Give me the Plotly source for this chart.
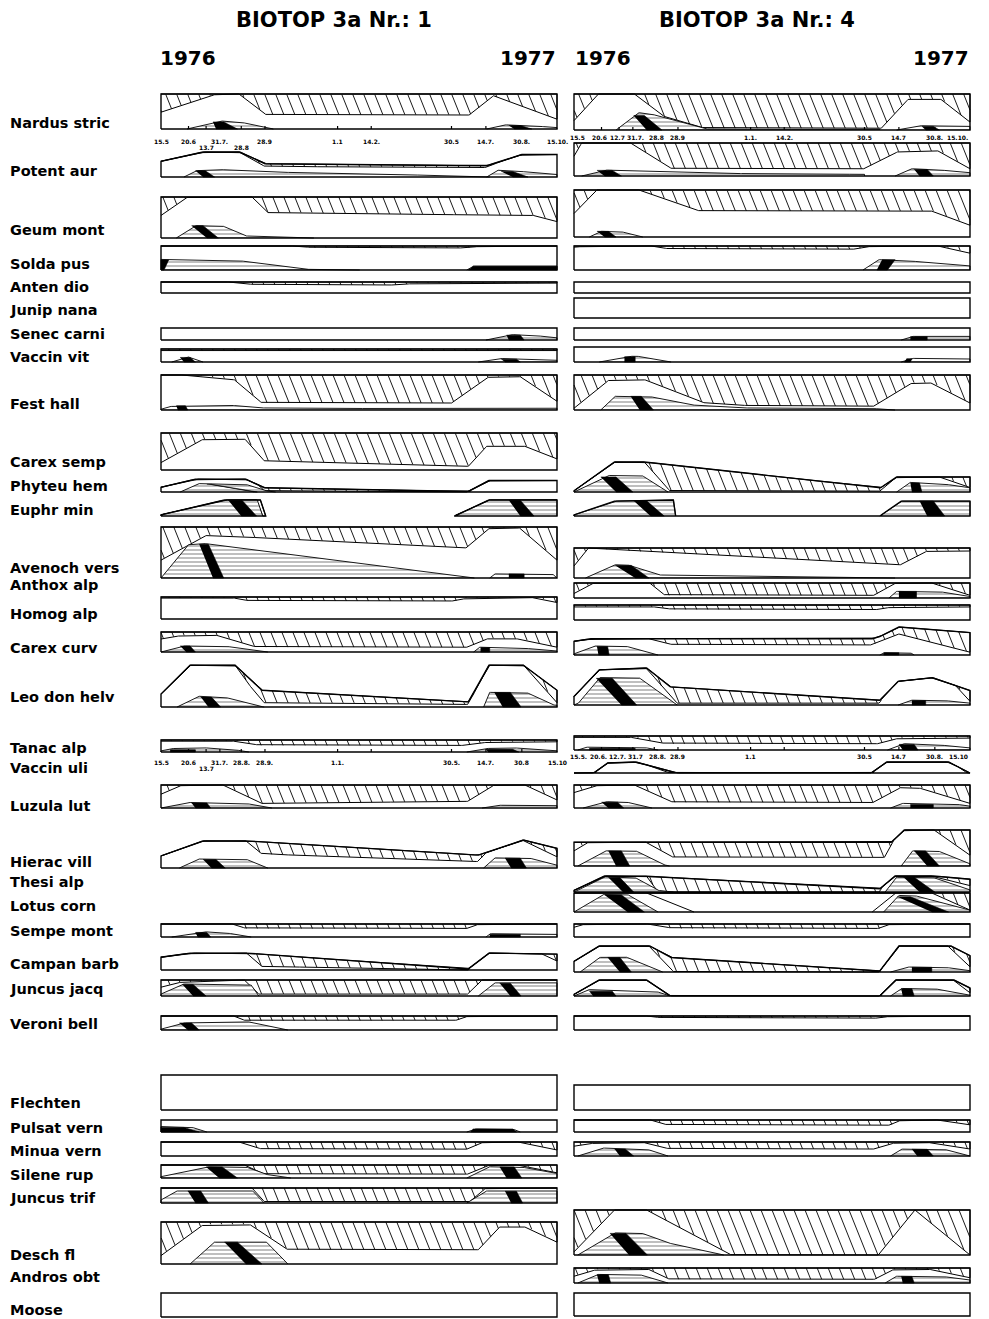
import numpy as np
import plotly.graph_objects as go

PAGE_W, PAGE_H = 989, 1319
BODY_MARGIN = 8  # default page margin around the plot div
FIG_W, FIG_H = PAGE_W - BODY_MARGIN, PAGE_H - BODY_MARGIN
SPAN = 518  # days from 15.5.1976 to 15.10.1977

SPECIES = ["Nardus stric", "Potent aur", "Geum mont", "Solda pus", "Anten dio", "Junip nana",
           "Senec carni", "Vaccin vit", "Fest hall", "Carex semp", "Phyteu hem", "Euphr min",
           "Avenoch vers", "Anthox alp", "Homog alp", "Carex curv", "Leo don helv", "Tanac alp",
           "Vaccin uli", "Luzula lut", "Hierac vill", "Thesi alp", "Lotus corn", "Sempe mont",
           "Campan barb", "Juncus jacq", "Veroni bell", "Flechten", "Pulsat vern", "Minua vern",
           "Silene rup", "Juncus trif", "Desch fl", "Andros obt", "Moose"]

# observation dates (days after 15.5.1976)
TICK_DAYS = [0, 36, 59, 77, 105, 136, 231, 275, 380, 425, 472, 518]
NR1_TICKS_A = ["15.5", "20.6", "13.7", "31.7.", "28.8", "28.9", "1.1", "14.2.", "30.5", "14.7.", "30.8.", "15.10."]
NR1_TICKS_B = ["15.5", "20.6", "13.7", "31.7.", "28.8.", "28.9.", "1.1.", None, "30.5.", "14.7.", "30.8", "15.10"]
NR4_TICKS_A = ["15.5", "20.6", "12.7", "31.7.", "28.8", "28.9", "1.1.", "14.2.", "30.5", "14.7", "30.8.", "15.10."]
NR4_TICKS_B = ["15.5.", "20.6.", "12.7.", "31.7", "28.8.", "28.9", "1.1", None, "30.5", "14.7", "30.8.", "15.10"]

# ---------------- BIOTOP 3a Nr. 1 : (day, share of row height) ----------------
ENV_NR1 = {
    "Potent aur": [[(0, 0.63), (55, 1), (103, 1), (136, 0.53), (426, 0.45), (472, 0.9), (518, 0.9)]],
    "Phyteu hem": [[(0, 0.34), (45, 0.92), (111, 0.92), (135, 0.3), (402, 0.04), (429, 0.82), (518, 0.82)]],
    "Euphr min": [[(0, 0.07), (83, 1), (130, 1), (137, 0)], [(384, 0), (429, 1), (518, 1)]],
    "Leo don helv": [[(0, 0.3), (38, 0.97), (97, 0.97), (132, 0.39), (402, 0.12), (429, 0.97), (474, 0.97), (518, 0.39)]],
    "Hierac vill": [[(0, 0.43), (55, 0.97), (111, 0.97), (415, 0.46), (474, 1.0), (518, 0.7)]],
    "Campan barb": [[(0, 0.71), (38, 0.94), (111, 0.94), (402, 0.06), (429, 0.94), (518, 0.88)]],
}
DEAD_NR1 = {
    "Nardus stric": [(0, 0.48), (73, 1), (103, 1), (138, 0.4), (404, 0.4), (435, 0.95), (518, 0.28)],
    "Potent aur": [(0, 1), (103, 1), (136, 0.42), (426, 0.38), (472, 1), (518, 1)],
    "Geum mont": [(0, 0.55), (35, 1), (120, 1), (140, 0.62), (470, 0.55), (490, 0.55), (518, 0.4)],
    "Solda pus": [(0, 1), (180, 1), (200, 0.92), (400, 0.92), (420, 1), (518, 1)],
    "Anten dio": [(0, 1), (95, 1), (125, 0.73), (310, 0.73), (335, 0.9), (518, 0.9)],
    "Vaccin vit": [(0, 0.88), (518, 0.88)],
    "Fest hall": [(0, 1), (35, 1), (97, 0.86), (132, 0.2), (381, 0.2), (429, 0.95), (471, 0.95), (518, 0.25)],
    "Carex semp": [(0, 0.2), (55, 0.83), (111, 0.83), (135, 0.25), (402, 0.1), (426, 0.64), (478, 0.64), (518, 0.3)],
    "Phyteu hem": [(0, 1), (120, 1), (135, 0.1), (402, 0), (412, 1), (518, 1)],
    "Euphr min": [(0, 1), (126, 1), (133, 0), (200, 0), (210, 1), (518, 1)],
    "Avenoch vers": [(0, 0.35), (60, 0.84), (400, 0.59), (430, 0.98), (470, 0.98), (518, 0.35)],
    "Homog alp": [(0, 0.95), (100, 0.95), (115, 0.82), (385, 0.82), (400, 0.95), (490, 0.97), (518, 0.75)],
    "Carex curv": [(0, 0.65), (28, 0.83), (76, 0.83), (125, 0.24), (402, 0.24), (429, 0.69), (471, 0.65), (518, 0.24)],
    "Leo don helv": [(0, 1), (97, 1), (120, 0.4), (135, 0.1), (402, 0.06), (429, 1), (474, 1), (518, 0.1)],
    "Tanac alp": [(0, 0.9), (100, 0.9), (130, 0.55), (400, 0.55), (430, 0.85), (518, 0.85)],
    "Luzula lut": [(0, 0.6), (28, 1), (83, 1), (132, 0.2), (402, 0.29), (436, 1), (478, 1), (518, 0.35)],
    "Hierac vill": [(0, 1), (111, 1), (132, 0.5), (415, 0.23), (440, 1), (474, 1), (518, 0.4)],
    "Sempe mont": [(0, 1), (95, 1), (111, 0.66), (402, 0.66), (416, 1), (518, 1)],
    "Campan barb": [(0, 1), (111, 1), (132, 0.2), (402, 0), (410, 1), (495, 1), (518, 0.5)],
    "Juncus jacq": [(0, 0.55), (25, 0.85), (110, 1), (128, 0.12), (402, 0.12), (420, 1), (518, 1)],
    "Veroni bell": [(0, 1), (97, 1), (111, 0.65), (388, 0.7), (402, 1), (518, 1)],
    "Minua vern": [(0, 1), (104, 1), (132, 0.49), (402, 0.49), (422, 1), (471, 1), (518, 0.43)],
    "Silene rup": [(0, 1), (111, 1), (135, 0.3), (402, 0.3), (430, 1), (470, 1), (518, 0.4)],
    "Juncus trif": [(0, 1), (120, 1), (135, 0.1), (405, 0.1), (425, 1), (518, 1)],
    "Desch fl": [(0, 0.2), (55, 0.93), (118, 0.93), (166, 0.34), (416, 0.34), (443, 0.88), (478, 0.88), (518, 0.52)],
}
FLOW_NR1 = {
    "Nardus stric": [[(34, 0), (77, 0.23), (103, 0.2), (147, 0)], [(426, 0), (448, 0.12), (480, 0.1), (518, 0.04)]],
    "Potent aur": [[(30, 0), (45, 0.25), (75, 0.3), (140, 0.2), (380, 0.05), (430, 0)], [(426, 0), (440, 0.27), (460, 0.25), (518, 0.1)]],
    "Geum mont": [[(20, 0), (45, 0.3), (80, 0.3), (110, 0.05), (200, 0)]],
    "Solda pus": [[(0, 0.44), (100, 0.4), (185, 0.03), (260, 0)], [(400, 0), (408, 0.16), (518, 0.16)]],
    "Senec carni": [[(425, 0), (457, 0.45), (485, 0.4), (518, 0.18)]],
    "Vaccin vit": [[(14, 0), (35, 0.4), (55, 0)], [(415, 0), (443, 0.27), (518, 0.13)]],
    "Fest hall": [[(0, 0.02), (10, 0.1), (90, 0.14), (125, 0.06), (381, 0.03), (420, 0.05), (518, 0.05)]],
    "Phyteu hem": [[(25, 0), (48, 0.6), (111, 0.55), (135, 0.1), (150, 0)]],
    "Euphr min": [[(0, 0.07), (83, 1), (126, 1), (133, 0)], [(384, 0), (429, 1), (518, 1)]],
    "Avenoch vers": [[(0, 0), (35, 0.65), (55, 0.68), (400, 0.02), (410, 0)], [(430, 0), (436, 0.08), (512, 0.08), (518, 0)]],
    "Carex curv": [[(0, 0), (28, 0.3), (83, 0.3), (125, 0.05), (140, 0)], [(409, 0), (416, 0.24), (471, 0.2), (518, 0.05)]],
    "Leo don helv": [[(21, 0), (48, 0.25), (83, 0.23), (125, 0.03), (135, 0)], [(422, 0), (429, 0.34), (478, 0.34), (512, 0.05), (518, 0.04)]],
    "Tanac alp": [[(0, 0.09), (12, 0.28), (51, 0.37), (95, 0.2), (115, 0)], [(400, 0), (422, 0.28), (456, 0.37), (518, 0.1)]],
    "Luzula lut": [[(0, 0), (35, 0.24), (110, 0.2), (145, 0.02)], [(420, 0), (440, 0.12), (518, 0.1)]],
    "Hierac vill": [[(24, 0), (48, 0.32), (111, 0.32), (135, 0.03), (140, 0)], [(422, 0), (436, 0.36), (481, 0.36), (518, 0.1)]],
    "Sempe mont": [[(14, 0), (55, 0.4), (83, 0.34), (118, 0)], [(425, 0), (430, 0.25), (518, 0.2)]],
    "Juncus jacq": [[(0, 0.12), (28, 0.75), (118, 0.68), (128, 0)], [(415, 0), (436, 0.82), (518, 0.82)]],
    "Veroni bell": [[(0, 0.06), (28, 0.5), (111, 0.62), (166, 0)]],
    "Pulsat vern": [[(0, 0.45), (40, 0.4), (60, 0)], [(400, 0), (410, 0.25), (460, 0.25), (470, 0)]],
    "Silene rup": [[(0, 0.1), (60, 0.86), (111, 0.86), (135, 0.3), (170, 0)], [(400, 0), (429, 0.86), (470, 0.86), (518, 0.35)]],
    "Juncus trif": [[(0, 0.2), (20, 0.8), (120, 0.8), (135, 0)], [(400, 0), (425, 0.8), (518, 0.8)]],
    "Desch fl": [[(38, 0), (69, 0.52), (138, 0.52), (166, 0)]],
}
# fruit bands: (top start, top end, bottom start, bottom end, height)
FRUIT_NR1 = {
    "Nardus stric": [(68, 82, 72, 100, 0.2), (455, 470, 462, 485, 0.1)],
    "Potent aur": [(45, 58, 55, 70, 0.25), (445, 460, 460, 480, 0.22)],
    "Geum mont": [(40, 55, 60, 75, 0.3)],
    "Solda pus": [(0, 10, 0, 4, 0.42), (408, 518, 402, 518, 0.16)],
    "Senec carni": [(452, 470, 455, 475, 0.4)],
    "Vaccin vit": [(25, 38, 30, 45, 0.35), (445, 465, 450, 470, 0.22)],
    "Fest hall": [(20, 32, 22, 35, 0.12)],
    "Phyteu hem": [(60, 66, 120, 126, 0.55)],
    "Euphr min": [(88, 106, 105, 125, 0.98), (455, 470, 470, 488, 0.98)],
    "Avenoch vers": [(50, 62, 68, 82, 0.66), (455, 475, 455, 475, 0.08)],
    "Carex curv": [(25, 38, 33, 45, 0.3), (418, 430, 418, 430, 0.22)],
    "Leo don helv": [(52, 66, 62, 78, 0.23), (436, 457, 447, 471, 0.34)],
    "Tanac alp": [(12, 45, 12, 45, 0.18), (425, 460, 428, 468, 0.22)],
    "Luzula lut": [(40, 60, 45, 65, 0.22)],
    "Hierac vill": [(55, 72, 66, 84, 0.3), (450, 470, 458, 478, 0.35)],
    "Sempe mont": [(45, 60, 48, 65, 0.35), (430, 470, 430, 470, 0.2)],
    "Juncus jacq": [(28, 42, 42, 59, 0.72), (443, 457, 457, 471, 0.8)],
    "Veroni bell": [(24, 40, 35, 50, 0.5)],
    "Pulsat vern": [(0, 30, 0, 50, 0.38), (408, 460, 405, 465, 0.25)],
    "Silene rup": [(59, 80, 76, 100, 0.85), (443, 462, 452, 472, 0.85)],
    "Juncus trif": [(35, 52, 45, 62, 0.8), (450, 465, 458, 473, 0.78)],
    "Desch fl": [(83, 100, 111, 132, 0.52)],
}
LINES_NR1 = {}

# ---------------- BIOTOP 3a Nr. 4 ----------------
ENV_NR4 = {
    "Phyteu hem": [[(0, 0.04), (53, 1), (92, 1), (401, 0.14), (422, 0.5), (518, 0.5)]],
    "Euphr min": [[(0, 0.07), (53, 0.93), (130, 1), (133, 0), (400, 0), (428, 0.93), (518, 0.93)]],
    "Carex curv": [[(0, 0.49), (22, 0.58), (390, 0.58), (400, 0.66), (425, 1.0), (518, 0.8)]],
    "Leo don helv": [[(0, 0.23), (33, 0.95), (95, 1), (126, 0.49), (400, 0.13), (424, 0.64), (469, 0.74), (518, 0.39)]],
    "Vaccin uli": [[(0, 0), (26, 0), (44, 0.91), (81, 1), (134, 0), (389, 0), (409, 1), (490, 1), (518, 0)]],
    "Hierac vill": [[(0, 0.66), (415, 0.66), (432, 1), (470, 1), (518, 1)]],
    "Thesi alp": [[(0, 0.1), (40, 1), (95, 0.98), (400, 0.2), (420, 1), (470, 1), (518, 0.8)]],
    "Campan barb": [[(0, 0.41), (33, 1), (99, 1), (127, 0.56), (400, 0.04), (425, 1), (493, 1), (518, 0.63)]],
    "Juncus jacq": [[(0, 0.1), (33, 1), (95, 1), (126, 0), (400, 0), (421, 1), (497, 1), (518, 0.5)]],
}
DEAD_NR4 = {
    "Nardus stric": [(0, 0.26), (32, 1), (80, 1), (119, 0.36), (171, 0.05), (402, 0.05), (437, 0.85), (481, 0.85), (518, 0.22)],
    "Potent aur": [(0, 0.6), (10, 1), (75, 1), (128, 0.22), (381, 0.22), (424, 0.74), (477, 0.76), (518, 0.22)],
    "Geum mont": [(0, 0.5), (30, 1), (85, 1), (165, 0.55), (470, 0.55), (518, 0.25)],
    "Solda pus": [(0, 0.95), (20, 1), (105, 1), (125, 0.87), (370, 0.87), (390, 1), (480, 1), (518, 0.7)],
    "Fest hall": [(0, 0.05), (46, 0.86), (95, 0.86), (171, 0.2), (240, 0.11), (393, 0.11), (442, 0.77), (469, 0.77), (518, 0.2)],
    "Phyteu hem": [(0, 1), (92, 1), (125, 0.05), (401, 0.03), (422, 0.5), (480, 0.5), (518, 0.15)],
    "Avenoch vers": [(0, 0.4), (19, 1), (30, 0.96), (428, 0.44), (462, 0.9), (518, 0.9)],
    "Anthox alp": [(0, 0.3), (26, 1), (100, 1), (119, 0.18), (393, 0.18), (421, 1), (470, 1), (518, 0.18)],
    "Homog alp": [(0, 0.87), (110, 0.87), (130, 0.7), (400, 0.7), (415, 0.87), (518, 0.87)],
    "Carex curv": [(0, 0.49), (22, 0.58), (100, 0.58), (130, 0.36), (390, 0.36), (425, 0.75), (518, 0.1)],
    "Leo don helv": [(0, 1), (95, 1), (115, 0.5), (135, 0.05), (400, 0.05), (420, 1), (480, 1), (518, 0.1)],
    "Tanac alp": [(0, 0.9), (80, 0.9), (120, 0.45), (400, 0.45), (425, 0.85), (518, 0.85)],
    "Vaccin uli": [(0, 1), (88, 1), (125, 0), (300, 0), (389, 1), (496, 1), (514, 0), (518, 0)],
    "Luzula lut": [(0, 0.67), (33, 1), (81, 1), (130, 0.24), (393, 0.24), (428, 0.9), (456, 0.85), (518, 0.2)],
    "Hierac vill": [(0, 0.42), (19, 0.66), (95, 0.66), (130, 0.24), (407, 0.24), (425, 1), (472, 1), (518, 0.3)],
    "Thesi alp": [(0, 1), (95, 1), (110, 0), (400, 0), (410, 1), (470, 1), (518, 0.4)],
    "Lotus corn": [(0, 1), (470, 1), (518, 0.1)],
    "Sempe mont": [(0, 0.75), (15, 1), (100, 1), (130, 0.66), (400, 0.66), (414, 1), (518, 1)],
    "Campan barb": [(0, 1), (99, 1), (130, 0.02), (400, 0), (425, 1), (490, 1), (518, 0.2)],
    "Juncus jacq": [(0, 1), (497, 1), (518, 0.2)],
    "Veroni bell": [(0, 1), (100, 1), (115, 0.85), (400, 0.85), (415, 1), (518, 1)],
    "Pulsat vern": [(0, 1), (102, 1), (123, 0.57), (414, 0.57), (428, 1), (480, 1), (518, 0.6)],
    "Minua vern": [(0, 0.7), (30, 0.95), (95, 0.95), (125, 0.5), (395, 0.5), (420, 0.95), (470, 0.95), (518, 0.5)],
    "Desch fl": [(0, 0.07), (53, 1), (95, 1), (206, 0), (398, 0), (446, 1), (518, 0)],
    "Andros obt": [(0, 0.45), (30, 0.9), (100, 0.9), (125, 0.25), (395, 0.25), (418, 0.9), (470, 0.9), (518, 0.35)],
}
FLOW_NR4 = {
    "Nardus stric": [[(55, 0), (70, 0.25), (85, 0.48), (100, 0.45), (171, 0.03), (230, 0.02), (400, 0.02)], [(422, 0), (450, 0.12), (490, 0.1), (518, 0.1)]],
    "Potent aur": [[(10, 0), (40, 0.18), (80, 0.15), (170, 0.08), (380, 0.05)], [(420, 0), (440, 0.22), (470, 0.2), (518, 0.1)]],
    "Geum mont": [[(20, 0), (35, 0.12), (60, 0.12), (90, 0)]],
    "Solda pus": [[(378, 0), (398, 0.43), (430, 0.4), (518, 0.17)]],
    "Senec carni": [[(428, 0), (442, 0.3), (518, 0.3)]],
    "Vaccin vit": [[(33, 0), (67, 0.34), (81, 0.4), (127, 0)], [(428, 0), (442, 0.24), (518, 0.2)]],
    "Fest hall": [[(35, 0), (53, 0.39), (98, 0.39), (150, 0.15), (210, 0.06), (393, 0.04), (420, 0)]],
    "Phyteu hem": [[(0, 0), (44, 0.55), (89, 0.55), (123, 0)], [(422, 0), (439, 0.32), (483, 0.27), (518, 0.14)]],
    "Euphr min": [[(0, 0.07), (53, 0.93), (130, 1), (133, 0)], [(400, 0), (428, 0.93), (518, 0.93)]],
    "Avenoch vers": [[(15, 0), (53, 0.44), (70, 0.44), (110, 0.1), (380, 0.03), (420, 0)]],
    "Anthox alp": [[(412, 0), (421, 0.44), (476, 0.44), (518, 0.1)]],
    "Carex curv": [[(0, 0.04), (26, 0.32), (67, 0.32), (106, 0.04), (110, 0)], [(400, 0), (405, 0.08), (440, 0.08), (445, 0)]],
    "Leo don helv": [[(0, 0), (5, 0.03), (33, 0.74), (85, 0.74), (126, 0.13), (135, 0)], [(424, 0), (440, 0.13), (480, 0.13), (518, 0.05)]],
    "Tanac alp": [[(5, 0), (15, 0.2), (90, 0.2), (110, 0)], [(410, 0), (430, 0.45), (470, 0.4), (518, 0.15)]],
    "Luzula lut": [[(12, 0), (40, 0.27), (67, 0.27), (102, 0)], [(414, 0), (428, 0.2), (497, 0.18), (518, 0.08)]],
    "Hierac vill": [[(5, 0), (40, 0.42), (81, 0.42), (116, 0.04), (125, 0)], [(428, 0), (442, 0.42), (476, 0.42), (518, 0.06)]],
    "Thesi alp": [[(0, 0), (40, 0.95), (80, 0.9), (110, 0.1), (130, 0)], [(407, 0), (421, 0.92), (469, 0.92), (518, 0.13)]],
    "Lotus corn": [[(0, 0), (38, 0.92), (70, 0.92), (110, 0)], [(405, 0), (424, 0.87), (445, 0.87), (518, 0.1)]],
    "Campan barb": [[(8, 0), (33, 0.56), (67, 0.59), (116, 0)], [(414, 0), (435, 0.19), (483, 0.19), (518, 0.05)]],
    "Juncus jacq": [[(0, 0), (19, 0.4), (109, 0.26), (126, 0)], [(414, 0), (428, 0.47), (470, 0.47), (518, 0.05)]],
    "Minua vern": [[(5, 0), (37, 0.57), (95, 0.49), (123, 0)], [(414, 0), (428, 0.49), (483, 0.49), (518, 0.05)]],
    "Desch fl": [[(5, 0), (53, 0.49), (88, 0.49), (120, 0.28), (196, 0)]],
    "Andros obt": [[(5, 0), (30, 0.57), (85, 0.57), (123, 0)], [(407, 0), (421, 0.45), (480, 0.45), (518, 0.2)]],
}
FRUIT_NR4 = {
    "Nardus stric": [(78, 92, 95, 115, 0.4), (455, 470, 460, 478, 0.1)],
    "Potent aur": [(30, 50, 40, 62, 0.17), (445, 462, 452, 470, 0.2)],
    "Geum mont": [(30, 45, 40, 55, 0.12)],
    "Solda pus": [(403, 420, 396, 410, 0.43)],
    "Senec carni": [(440, 462, 440, 462, 0.28)],
    "Vaccin vit": [(66, 80, 66, 80, 0.35), (435, 442, 432, 440, 0.22)],
    "Fest hall": [(74, 88, 86, 104, 0.39)],
    "Phyteu hem": [(35, 55, 55, 77, 0.5), (440, 452, 442, 455, 0.3)],
    "Euphr min": [(78, 95, 100, 118, 0.95), (452, 470, 462, 485, 0.93)],
    "Avenoch vers": [(54, 75, 80, 98, 0.42)],
    "Anthox alp": [(425, 448, 425, 448, 0.44)],
    "Carex curv": [(30, 44, 32, 46, 0.3), (405, 425, 405, 425, 0.08)],
    "Leo don helv": [(29, 50, 62, 82, 0.72), (442, 460, 442, 460, 0.12)],
    "Tanac alp": [(20, 80, 20, 80, 0.12), (425, 445, 430, 450, 0.4)],
    "Luzula lut": [(36, 57, 45, 65, 0.25), (440, 470, 440, 470, 0.15)],
    "Hierac vill": [(45, 62, 55, 73, 0.42), (445, 460, 462, 478, 0.42)],
    "Thesi alp": [(45, 60, 64, 78, 0.9), (431, 445, 452, 472, 0.92)],
    "Lotus corn": [(40, 62, 70, 92, 0.9), (423, 440, 468, 490, 0.8)],
    "Campan barb": [(44, 60, 60, 75, 0.56), (442, 468, 442, 468, 0.18)],
    "Juncus jacq": [(20, 50, 25, 55, 0.3), (428, 442, 430, 445, 0.45)],
    "Minua vern": [(53, 67, 60, 78, 0.5), (442, 462, 449, 470, 0.48)],
    "Desch fl": [(47, 68, 72, 96, 0.48)],
    "Andros obt": [(30, 45, 33, 48, 0.55), (428, 442, 430, 445, 0.44)],
}
LINES_NR4 = {"Lotus corn": [[(95, 1), (157, 0)], [(390, 0), (421, 1)]]}

# ---------------- layout (page pixel rows: top, bottom) ----------------
LABEL_Y = [123, 171, 230, 264, 287, 310, 334, 357, 404, 462, 486, 510, 568, 585, 614, 648, 697, 748,
           768, 806, 862, 882, 906, 931, 964, 989, 1024, 1103, 1128, 1151, 1175, 1198, 1255, 1277, 1310]
ROWS_NR1 = {"Nardus stric": (94, 129), "Potent aur": (152, 177), "Geum mont": (197, 238), "Solda pus": (246, 270),
            "Anten dio": (282, 293), "Senec carni": (328, 340), "Vaccin vit": (349, 362), "Fest hall": (375, 410),
            "Carex semp": (433, 470), "Phyteu hem": (478, 492), "Euphr min": (500, 516), "Avenoch vers": (527, 578),
            "Homog alp": (597, 619), "Carex curv": (632, 652), "Leo don helv": (664, 707), "Tanac alp": (740, 752),
            "Luzula lut": (785, 808), "Hierac vill": (840, 868), "Sempe mont": (924, 937), "Campan barb": (952, 970),
            "Juncus jacq": (980, 996), "Veroni bell": (1016, 1030), "Flechten": (1075, 1110), "Pulsat vern": (1120, 1132),
            "Minua vern": (1142, 1156), "Silene rup": (1165, 1178), "Juncus trif": (1188, 1203), "Desch fl": (1222, 1264),
            "Moose": (1293, 1317)}
ROWS_NR4 = {"Nardus stric": (94, 130), "Potent aur": (143, 176), "Geum mont": (190, 237), "Solda pus": (246, 270),
            "Anten dio": (282, 293), "Junip nana": (298, 318), "Senec carni": (328, 340), "Vaccin vit": (347, 362),
            "Fest hall": (375, 410), "Phyteu hem": (462, 492), "Euphr min": (500, 516), "Avenoch vers": (548, 578),
            "Anthox alp": (583, 598), "Homog alp": (605, 620), "Carex curv": (627, 655), "Leo don helv": (668, 705),
            "Tanac alp": (736, 750), "Vaccin uli": (762, 773), "Luzula lut": (785, 808), "Hierac vill": (830, 866),
            "Thesi alp": (876, 892), "Lotus corn": (893, 912), "Sempe mont": (924, 937), "Campan barb": (946, 972),
            "Juncus jacq": (980, 996), "Veroni bell": (1016, 1030), "Flechten": (1085, 1110), "Pulsat vern": (1120, 1132),
            "Minua vern": (1142, 1156), "Desch fl": (1210, 1255), "Andros obt": (1268, 1283), "Moose": (1293, 1316)}
AXIS_ROWS = ["Nardus stric", "Tanac alp"]
PANEL_PX = {"x": (161, 557), "x2": (574, 970)}
PX_DAY = (PANEL_PX["x"][1] - PANEL_PX["x"][0]) / SPAN
HATCH_SLOPE = 2.5    # steepness of the hatching strokes (dy/dx)
HATCH_SPACING = 11.0  # horizontal distance between strokes, px


def curve(points, xs):
    return np.interp(xs, [p[0] for p in points], [p[1] for p in points])


def grid(a, b):
    xs = np.arange(np.ceil(a), np.floor(b) + 1, 1.0)
    return np.unique(np.concatenate([[a], xs, [b]]))


def hatch_strokes(xs_day, y_top, y_bot, row_top, row_bot):
    """Steep '\\' strokes filling the band between y_top and y_bot (page px)."""
    out_x, out_y = [], []
    xp = xs_day * PX_DAY
    thick = (y_bot - y_top) > 0.4
    if not thick.any():
        return out_x, out_y
    cmin = xp[0] - row_bot / HATCH_SLOPE
    cmax = xp[-1] - row_top / HATCH_SLOPE
    ys = np.linspace(row_top, row_bot, 80)
    for k in range(int(np.floor(cmin / HATCH_SPACING)), int(np.ceil(cmax / HATCH_SPACING)) + 1):
        c = k * HATCH_SPACING
        xl = c + ys / HATCH_SLOPE
        valid = (xl >= xp[0]) & (xl <= xp[-1])
        yt = np.interp(xl, xp, y_top)
        yb = np.interp(xl, xp, y_bot)
        inside = valid & (ys >= yt - 0.05) & (ys <= yb + 0.05) & ((yb - yt) > 0.4)
        if not inside.any():
            continue
        idx = np.flatnonzero(inside)
        runs = np.split(idx, np.flatnonzero(np.diff(idx) > 1) + 1)
        for r in runs:
            if len(r) < 2:
                continue
            out_x += [xl[r[0]] / PX_DAY, xl[r[-1]] / PX_DAY, None]
            out_y += [ys[r[0]], ys[r[-1]], None]
    return out_x, out_y


def build(fig, xref, rows, env, dead, flow, fruit, lines):
    hx, hy, sx, sy, fx, fy, kx, ky, ox, oy, lx, ly, tx, ty = ([] for _ in range(14))
    for sp, (top, bot) in rows.items():
        h = bot - top

        def Y(v):
            return list(bot - np.asarray(v, dtype=float) * h)

        segs = env.get(sp)
        boxed = segs is None
        if boxed:
            segs = [[(0, 1.0), (SPAN, 1.0)]]

        def env_at(xs):
            out = np.full(len(xs), np.inf)
            for s in segs:
                m = (xs >= s[0][0]) & (xs <= s[-1][0])
                out[m] = curve(s, xs[m])
            return out

        if sp in dead:
            for s in segs:
                xs = grid(s[0][0], s[-1][0])
                e = curve(s, xs)
                lo = np.minimum(curve(dead[sp], xs), e)
                hx += list(xs) + list(xs[::-1]) + [None]
                hy += Y(e) + Y(lo[::-1]) + [None]
                ax, ay = hatch_strokes(xs, np.array(Y(e)), np.array(Y(lo)), top - 12, bot)
                sx += ax
                sy += ay
        for s in flow.get(sp, []):
            xs = grid(s[0][0], s[-1][0])
            f = np.minimum(curve(s, xs), env_at(xs))
            fx += [xs[0]] + list(xs) + [xs[-1], None]
            fy += [bot] + Y(f) + [bot, None]
        for (ts, te, bs, be, hv) in fruit.get(sp, []):
            kx += [ts, te, be, bs, None]
            ky += Y([hv, hv]) + [bot, bot, None]
        for s in segs:
            px = [p[0] for p in s]
            pv = [p[1] for p in s]
            ox += [px[0]] + px + [px[-1], px[0], None]
            oy += [bot] + Y(pv) + [bot, bot, None]
        for ln in lines.get(sp, []):
            lx += [p[0] for p in ln] + [None]
            ly += Y([p[1] for p in ln]) + [None]
        if sp in AXIS_ROWS:
            for d in TICK_DAYS[1:-1]:
                tx += [d, d, None]
                ty += [bot, bot - 3, None]

    common = dict(xaxis=xref, yaxis="y", hoverinfo="skip", showlegend=False)
    fig.add_trace(go.Scatter(x=sx, y=sy, mode="lines", line=dict(color="black", width=0.9), **common))
    fig.add_trace(go.Scatter(x=hx, y=hy, mode="lines", line=dict(color="black", width=1), **common))
    fig.add_trace(go.Scatter(x=fx, y=fy, mode="lines", fill="toself", fillcolor="white",
                             fillpattern=dict(shape="-", fgcolor="black", bgcolor="white", size=4, solidity=0.25),
                             line=dict(color="black", width=0.9), **common))
    fig.add_trace(go.Scatter(x=kx, y=ky, mode="lines", fill="toself", fillcolor="black",
                             line=dict(color="black", width=0.6), **common))
    fig.add_trace(go.Scatter(x=lx, y=ly, mode="lines", line=dict(color="black", width=1), **common))
    fig.add_trace(go.Scatter(x=tx, y=ty, mode="lines", line=dict(color="black", width=1.2), **common))
    fig.add_trace(go.Scatter(x=ox, y=oy, mode="lines", line=dict(color="black", width=1.4), **common))


def px_x(page_x):
    return (page_x - BODY_MARGIN) / FIG_W


fig = go.Figure()
build(fig, "x", ROWS_NR1, ENV_NR1, DEAD_NR1, FLOW_NR1, FRUIT_NR1, LINES_NR1)
build(fig, "x2", ROWS_NR4, ENV_NR4, DEAD_NR4, FLOW_NR4, FRUIT_NR4, LINES_NR4)

LABEL_FONT = dict(family="DejaVu Sans", size=14.5, color="black", weight="bold")
TICK_FONT = dict(family="DejaVu Sans", size=6, color="black", weight="bold")
ann = []
for name, y in zip(SPECIES, LABEL_Y):
    ann.append(dict(text=name, x=px_x(8), xref="paper", xanchor="left", y=y, yref="y",
                    yanchor="middle", showarrow=False, font=LABEL_FONT))

TICK_ROWS = [("x", NR1_TICKS_A, 141, 147, [2, 4], {}), ("x", NR1_TICKS_B, 762, 768, [2], {}),
             ("x2", NR4_TICKS_A, 137, 137, [], {1: -2, 2: -2, 3: 3, 4: 2}),
             ("x2", NR4_TICKS_B, 756, 756, [], {1: -3, 2: -2, 3: 3, 4: 3})]
for xref, labels, y1, y2, low, shifts in TICK_ROWS:
    for i, (d, lab) in enumerate(zip(TICK_DAYS, labels)):
        if lab is None:
            continue
        anchor = "left" if i == 0 else ("right" if i == len(labels) - 1 else "center")
        if xref == "x":
            anchor = "center"
        ann.append(dict(text=lab, x=d, xref=xref, y=(y2 if i in low else y1), yref="y",
                        xanchor=anchor, yanchor="middle", xshift=shifts.get(i, 0) + (-6 if anchor == "left" else 0),
                        showarrow=False, font=TICK_FONT))

TITLE_FONT = dict(family="DejaVu Sans", size=21, color="black", weight="bold")
YEAR_FONT = dict(family="DejaVu Sans", size=20, color="black", weight="bold")
for txt, x in [("BIOTOP 3a Nr.: 1", 334), ("BIOTOP 3a Nr.: 4", 757)]:
    ann.append(dict(text=txt, x=px_x(x), xref="paper", y=20, yref="y", xanchor="center",
                    yanchor="middle", showarrow=False, font=TITLE_FONT))
for txt, x in [("1976", 188), ("1977", 528), ("1976", 603), ("1977", 941)]:
    ann.append(dict(text=txt, x=px_x(x), xref="paper", y=58, yref="y", xanchor="center",
                    yanchor="middle", showarrow=False, font=YEAR_FONT))

fig.update_layout(
    width=FIG_W, height=FIG_H, margin=dict(l=0, r=0, t=0, b=0),
    paper_bgcolor="white", plot_bgcolor="white", showlegend=False,
    xaxis=dict(domain=[px_x(PANEL_PX["x"][0] - 2 * PX_DAY), px_x(PANEL_PX["x"][1] + 2 * PX_DAY)],
               range=[-2, SPAN + 2], visible=False, anchor="y", fixedrange=True),
    xaxis2=dict(domain=[px_x(PANEL_PX["x2"][0] - 2 * PX_DAY), px_x(PANEL_PX["x2"][1] + 2 * PX_DAY)],
                range=[-2, SPAN + 2], visible=False, anchor="y", fixedrange=True),
    yaxis=dict(domain=[0, 1], range=[PAGE_H, BODY_MARGIN], visible=False, fixedrange=True),
    annotations=ann,
)
fig.write_html("out.html")
